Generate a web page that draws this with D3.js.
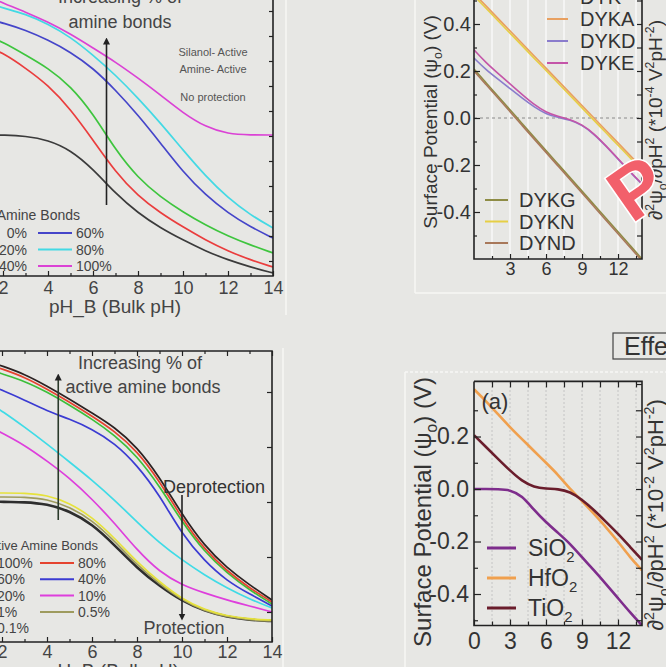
<!DOCTYPE html>
<html>
<head>
<meta charset="utf-8">
<script src="https://d3js.org/d3.v7.min.js"></script>
<style>
body { margin: 0; background: #e7e7e4; }
svg { display: block; font-family: "Liberation Sans", Arial, sans-serif; }
</style>
</head>
<body>
<svg id="drawing_region"></svg>
<script>
// ---- top left: % amine bonds ----
const phA = [1.5, 2, 3, 4, 5, 6, 7, 8, 9, 10, 11, 12, 13, 14];
const bondsA = ["0%", "20%", "40%", "60%", "80%", "100%"];
const colorsA = ["#3b3b3b", "#ea3d3d", "#3ec53e", "#4545c9", "#43d9e4", "#db42d5"];
const amine0 = [0.282, 0.282, 0.28, 0.272, 0.252, 0.214, 0.165, 0.126, 0.096, 0.072, 0.05, 0.032, 0.018, 0.006];
const amine20 = [0.454, 0.446, 0.416, 0.382, 0.334, 0.272, 0.208, 0.16, 0.126, 0.098, 0.072, 0.05, 0.032, 0.018];
const amine40 = [0.476, 0.468, 0.442, 0.416, 0.38, 0.325, 0.252, 0.196, 0.158, 0.128, 0.102, 0.08, 0.062, 0.046];
const amine60 = [0.512, 0.506, 0.492, 0.472, 0.448, 0.416, 0.372, 0.322, 0.266, 0.208, 0.162, 0.126, 0.098, 0.076];
const amine80 = [0.544, 0.536, 0.524, 0.504, 0.478, 0.442, 0.402, 0.356, 0.306, 0.252, 0.2, 0.156, 0.122, 0.096];
const amine100 = [0.556, 0.546, 0.528, 0.508, 0.484, 0.456, 0.428, 0.396, 0.362, 0.326, 0.298, 0.284, 0.282, 0.282];

// ---- bottom left: % active amine bonds ----
const phC = [1.5, 2, 3, 4, 5, 6, 7, 8, 9, 10, 11, 12, 13, 14];
const bondsC = ["100%", "80%", "60%", "40%", "20%", "10%", "1%", "0.5%", "0.1%"];
const colorsC = ["#2b2222", "#e5432f", "#3dbf3a", "#3b3bd2", "#3fdbe6", "#de3fdc", "#e6e23c", "#9e9b5e", "#2e2e2e"];
const active100 = [0.56, 0.552, 0.536, 0.512, 0.486, 0.458, 0.43, 0.39, 0.33, 0.255, 0.192, 0.148, 0.114, 0.084];
const active80 = [0.554, 0.546, 0.53, 0.506, 0.48, 0.452, 0.422, 0.382, 0.322, 0.247, 0.185, 0.142, 0.108, 0.08];
const active60 = [0.544, 0.536, 0.522, 0.5, 0.474, 0.446, 0.414, 0.372, 0.312, 0.24, 0.18, 0.138, 0.104, 0.076];
const active40 = [0.512, 0.504, 0.484, 0.462, 0.446, 0.426, 0.398, 0.354, 0.294, 0.215, 0.162, 0.122, 0.096, 0.072];
const active20 = [0.476, 0.462, 0.43, 0.396, 0.36, 0.324, 0.284, 0.24, 0.198, 0.164, 0.134, 0.108, 0.086, 0.068];
const active10 = [0.43, 0.418, 0.394, 0.362, 0.328, 0.286, 0.238, 0.184, 0.14, 0.114, 0.098, 0.084, 0.072, 0.06];
const active1 = [0.298, 0.298, 0.298, 0.294, 0.278, 0.25, 0.208, 0.16, 0.12, 0.086, 0.064, 0.052, 0.046, 0.044];
const active05 = [0.29, 0.29, 0.29, 0.286, 0.27, 0.244, 0.202, 0.154, 0.116, 0.084, 0.062, 0.05, 0.044, 0.042];
const active01 = [0.282, 0.28, 0.28, 0.276, 0.262, 0.236, 0.194, 0.148, 0.112, 0.082, 0.062, 0.05, 0.044, 0.042];

// ---- top right: DYK peptides ----
const phB = [0, 1, 2, 3, 4, 5, 6, 7, 8, 9, 10, 11, 12, 13, 14];
const namesB = ["DYKN", "DYKA", "DYKG", "DYND", "DYKD", "DYKE"];
const colorsB = ["#e6cf45", "#e8a060", "#8e8c45", "#a8785a", "#8a7ccc", "#c455a8"];
const dykn = [0.52, 0.467, 0.414, 0.361, 0.308, 0.255, 0.202, 0.149, 0.096, 0.043, -0.01, -0.063, -0.116, -0.169, -0.222];
const dyka = [0.53, 0.477, 0.424, 0.371, 0.318, 0.265, 0.212, 0.159, 0.106, 0.053, 0.0, -0.053, -0.106, -0.159, -0.212];
const dykg = [0.208, 0.15, 0.093, 0.035, -0.023, -0.081, -0.138, -0.196, -0.254, -0.311, -0.369, -0.427, -0.484, -0.542, -0.6];
const dynd = [0.2, 0.142, 0.085, 0.027, -0.031, -0.089, -0.146, -0.204, -0.262, -0.319, -0.377, -0.435, -0.492, -0.55, -0.608];
const dykd = [0.255, 0.205, 0.165, 0.125, 0.085, 0.047, 0.017, 0.002, -0.008, -0.03, -0.068, -0.12, -0.175, -0.23, -0.282];
const dyke = [0.29, 0.235, 0.19, 0.145, 0.1, 0.057, 0.024, 0.006, -0.005, -0.028, -0.066, -0.118, -0.173, -0.228, -0.28];
const legendTopB = ["DYK", "DYKA", "DYKD", "DYKE"];
const legendBottomB = ["DYKG", "DYKN", "DYND"];

// ---- bottom right: oxides ----
const phD = [0, 1, 2, 3, 4, 5, 6, 7, 8, 9, 10, 11, 12, 13, 14];
const oxides = ["SiO", "HfO", "TiO"];
const colorsD = ["#7e2d8c", "#f0a04e", "#6a1d2c"];
const sio2 = [0.0, 0.0, -0.001, -0.003, -0.025, -0.08, -0.127, -0.167, -0.208, -0.26, -0.31, -0.362, -0.416, -0.47, -0.52];
const hfo2 = [0.38, 0.335, 0.285, 0.235, 0.19, 0.145, 0.1, 0.055, 0.0, -0.045, -0.095, -0.145, -0.2, -0.26, -0.31];
const tio2 = [0.205, 0.16, 0.115, 0.07, 0.03, 0.007, 0.001, 0.0, -0.01, -0.04, -0.08, -0.125, -0.17, -0.22, -0.27];

const svg = d3.select('#drawing_region')
    .attr('width', 666)
    .attr('height', 667);

svg.append('rect').attr('width', 666).attr('height', 667).attr('fill', '#e7e7e4');

const defs = svg.append('defs');
defs.append('marker')
    .attr('id', 'arrow')
    .attr('viewBox', '0 0 10 10')
    .attr('refX', 5).attr('refY', 5)
    .attr('markerWidth', 7).attr('markerHeight', 9)
    .attr('orient', 'auto-start-reverse')
    .attr('markerUnits', 'userSpaceOnUse')
    .append('path').attr('d', 'M0,0 L10,5 L0,10 Z').attr('fill', '#222');

// light panel borders of the poster
function frameLine(x1, y1, x2, y2, dash) {
    svg.append('line')
        .attr('x1', x1).attr('y1', y1).attr('x2', x2).attr('y2', y2)
        .attr('stroke', '#f7f7f5').attr('stroke-width', 1.5)
        .attr('stroke-dasharray', dash || null);
}
frameLine(286, 0, 286, 315);
frameLine(283, 348, 283, 667);
frameLine(415, 0, 415, 293);
frameLine(415, 293, 666, 293);
frameLine(405, 372, 666, 372, '3,2');
frameLine(405, 372, 405, 667);

class LinePanel {

    constructor( config, xs, series, colors ) {
        this.config = config;
        this.xs = xs;
        this.series = series;
        this.colors = colors;
        this.init();
    }

    init() {
        let self = this;
        self.xscale = d3.scaleLinear().domain(self.config.xdomain).range(self.config.xrange);
        self.yscale = d3.scaleLinear().domain(self.config.ydomain).range(self.config.yrange);

        const c = self.config.clip;
        defs.append('clipPath').attr('id', self.config.id)
            .append('rect').attr('x', c[0]).attr('y', c[1]).attr('width', c[2]).attr('height', c[3]);

        self.back = svg.append('g');
        self.chart = svg.append('g').attr('clip-path', `url(#${self.config.id})`);
        self.front = svg.append('g');
    }

    render() {
        let self = this;
        const line = d3.line()
            .x((d, i) => self.xscale(self.xs[i]))
            .y(d => self.yscale(d))
            .curve(d3.curveBasis);

        self.chart.selectAll('path.series')
            .data(self.series)
            .join('path')
            .attr('class', 'series')
            .attr('d', line)
            .attr('fill', 'none')
            .attr('stroke', (d, i) => self.colors[i])
            .attr('stroke-width', (d, i) => (self.config.widths ? self.config.widths[i] : self.config.lineWidth));
    }

    axis( axis, tx, ty, font, color, padding ) {
        let self = this;
        const g = self.front.append('g')
            .attr('transform', `translate(${tx},${ty})`)
            .call(axis.tickSizeOuter(0).tickPadding(padding || 4));
        g.select('.domain').remove();
        g.selectAll('line').attr('stroke', '#222').attr('stroke-width', 1.2);
        g.selectAll('text')
            .attr('font-size', font)
            .attr('font-family', '"Liberation Sans", Arial, sans-serif')
            .attr('fill', color);
        return g;
    }

    border( pts ) {
        this.front.append('path')
            .attr('d', d3.line()(pts))
            .attr('fill', 'none')
            .attr('stroke', '#222')
            .attr('stroke-width', 1.6);
    }
}

function richText( sel, segs, size ) {
    let shift = 0;
    segs.forEach(([t, s]) => {
        const target = s === 1 ? -0.4 * size : (s === -1 ? 0.25 * size : 0);
        sel.append('tspan')
            .attr('dy', target - shift)
            .attr('font-size', s ? size * 0.65 : size)
            .text(t);
        shift = target;
    });
}

function addText( x, y, txt, size, color, anchor ) {
    return svg.append('text')
        .attr('x', x).attr('y', y)
        .attr('font-size', size)
        .attr('fill', color)
        .attr('text-anchor', anchor || 'start')
        .text(txt);
}

// ================= panel A =================
const panelA = new LinePanel({
    id: 'clipA', xdomain: [2, 14], xrange: [3, 273], ydomain: [0, 0.55], yrange: [276, 1],
    clip: [-20, -20, 293, 296], lineWidth: 1.7
}, phA, [amine0, amine20, amine40, amine60, amine80, amine100], colorsA);
panelA.render();
{
    const x = panelA.xscale, y = panelA.yscale;
    panelA.border([[-10, 276], [273, 276], [273, -10]]);
    panelA.axis(d3.axisBottom(x).tickValues([2, 4, 6, 8, 10, 12, 14]).tickSize(-5).tickFormat(d3.format('d')), 0, 276, 18, '#444', 5);
    panelA.axis(d3.axisBottom(x).tickValues([3, 5, 7, 9, 11, 13]).tickSize(-3).tickFormat(''), 0, 276, 10, '#444');
    panelA.axis(d3.axisRight(y).tickValues(d3.range(0.03, 0.56, 0.05)).tickSize(-4).tickFormat(''), 273, 0, 10, '#444');

    addText(115, 313, 'pH_B (Bulk pH)', 19, '#444', 'middle');
    addText(120, 3, 'Increasing % of', 18, '#444', 'middle');
    addText(120, 28, 'amine bonds', 18, '#444', 'middle');
    svg.append('line')
        .attr('x1', x(6.6)).attr('y1', y(0.142))
        .attr('x2', x(6.6)).attr('y2', y(0.47))
        .attr('stroke', '#222').attr('stroke-width', 1.6)
        .attr('marker-end', 'url(#arrow)');
    addText(213, 56, 'Silanol- Active', 11, '#555', 'middle');
    addText(213, 73, 'Amine- Active', 11, '#555', 'middle');
    addText(213, 101, 'No protection', 11, '#555', 'middle');

    // legend
    addText(80, 220, 'Amine Bonds', 14, '#444', 'end');
    for (let i = 0; i < 3; i++) {
        const yy = 233 + i * 16.5;
        addText(27, yy + 5, bondsA[i], 14, '#444', 'end');
        svg.append('line').attr('x1', 38).attr('x2', 72).attr('y1', yy).attr('y2', yy)
            .attr('stroke', colorsA[i + 3]).attr('stroke-width', 2);
        addText(76, yy + 5, bondsA[i + 3], 14, '#444');
    }
}

// ================= panel C =================
const panelC = new LinePanel({
    id: 'clipC', xdomain: [2, 14], xrange: [2, 272], ydomain: [0, 0.582], yrange: [642, 351],
    clip: [-20, 351, 292, 291],
    widths: [1.7, 1.7, 1.7, 1.7, 1.7, 1.7, 1.7, 1.7, 2.6].reverse()
}, phC, [active01, active05, active1, active10, active20, active40, active60, active80, active100],
   colorsC.slice().reverse());
panelC.render();
{
    const x = panelC.xscale, y = panelC.yscale;
    panelC.border([[-10, 351], [272, 351], [272, 642], [-10, 642]]);
    panelC.axis(d3.axisBottom(x).tickValues([2, 4, 6, 8, 10, 12, 14]).tickSize(-5).tickFormat(d3.format('d')), 0, 642, 18, '#444', 3);
    panelC.axis(d3.axisBottom(x).tickValues([3, 5, 7, 9, 11, 13]).tickSize(-3).tickFormat(''), 0, 642, 10, '#444');
    panelC.axis(d3.axisTop(x).tickValues([2, 4, 6, 8, 10, 12, 14]).tickSize(-5).tickFormat(''), 0, 351, 10, '#444');
    panelC.axis(d3.axisTop(x).tickValues([3, 5, 7, 9, 11, 13]).tickSize(-3).tickFormat(''), 0, 351, 10, '#444');
    panelC.axis(d3.axisRight(y).tickValues([0.06, 0.17, 0.28, 0.39, 0.5]).tickSize(-5).tickFormat(''), 272, 0, 10, '#444');

    addText(113, 677, 'pH_B (Bulk pH)', 19, '#444', 'middle');
    addText(140, 369, 'Increasing % of', 18, '#444', 'middle');
    addText(143, 393, 'active amine bonds', 18, '#444', 'middle');
    addText(214, 493, 'Deprotection', 18, '#333', 'middle');
    addText(184, 634, 'Protection', 18, '#444', 'middle');
    svg.append('line')
        .attr('x1', x(4.5)).attr('y1', y(0.244))
        .attr('x2', x(4.5)).attr('y2', y(0.53))
        .attr('stroke', '#2a3a2a').attr('stroke-width', 1.6)
        .attr('marker-end', 'url(#arrow)');
    svg.append('line')
        .attr('x1', x(10)).attr('y1', y(0.294))
        .attr('x2', x(10)).attr('y2', y(0.05))
        .attr('stroke', '#222').attr('stroke-width', 1.6)
        .attr('marker-end', 'url(#arrow)');

    // legend
    addText(98, 550, 'Active Amine Bonds', 13, '#444', 'end');
    for (let i = 0; i < 5; i++) {
        const yy = 563 + i * 16.3;
        addText(-3, yy + 5, bondsC[2 * i], 14, '#444');
        if (2 * i + 1 < bondsC.length) {
            svg.append('line').attr('x1', 40).attr('x2', 74).attr('y1', yy).attr('y2', yy)
                .attr('stroke', colorsC[2 * i + 1]).attr('stroke-width', 2);
            addText(78, yy + 5, bondsC[2 * i + 1], 14, '#444');
        }
    }
}

// ================= panel B =================
const panelB = new LinePanel({
    id: 'clipB', xdomain: [0, 14], xrange: [474, 642], ydomain: [-0.6, 0.5], yrange: [259, 0.5],
    clip: [474, -20, 168, 279], lineWidth: 1.6
}, phB, [dykn, dyka, dykg, dynd, dykd, dyke], colorsB);
{
    const x = panelB.xscale, y = panelB.yscale;
    panelB.back.selectAll('line.grid')
        .data(d3.range(1.5, 14, 1.5))
        .join('line')
        .attr('x1', d => x(d)).attr('x2', d => x(d))
        .attr('y1', -5).attr('y2', 259)
        .attr('stroke', '#fbfbfb').attr('stroke-width', 1.3);
    panelB.back.append('line')
        .attr('x1', 474).attr('x2', 642).attr('y1', y(0)).attr('y2', y(0))
        .attr('stroke', '#8a8a8a').attr('stroke-dasharray', '3,3');
}
panelB.render();
{
    const x = panelB.xscale, y = panelB.yscale;
    panelB.border([[474, -10], [474, 259], [642, 259], [642, -10]]);
    panelB.axis(d3.axisLeft(y).tickValues([-0.4, -0.2, 0, 0.2, 0.4]).tickSize(-6).tickFormat(d => d.toFixed(1)), 474, 0, 20, '#333', 3);
    panelB.axis(d3.axisLeft(y).tickValues([-0.5, -0.3, -0.1, 0.1, 0.3, 0.5]).tickSize(-3).tickFormat(''), 474, 0, 10, '#333');
    panelB.axis(d3.axisRight(y).tickValues([-0.5, -0.4, -0.3, -0.2, -0.1, 0, 0.1, 0.2, 0.3, 0.4, 0.5]).tickSize(-5).tickFormat(''), 642, 0, 10, '#333');
    panelB.axis(d3.axisBottom(x).tickValues([3, 6, 9, 12]).tickSize(-5).tickFormat(d3.format('d')), 0, 259, 18, '#333', 3);
    panelB.axis(d3.axisBottom(x).tickValues([1.5, 4.5, 7.5, 10.5, 13.5]).tickSize(-3).tickFormat(''), 0, 259, 10, '#333');

    const yl = svg.append('text').attr('transform', 'translate(437,122) rotate(-90)')
        .attr('text-anchor', 'middle').attr('fill', '#333').attr('font-size', 19);
    richText(yl, [['Surface Potential (ψ', 0], ['o', -1], [') (V)', 0]], 19);
    const yr = svg.append('text').attr('transform', 'translate(662,120) rotate(-90)')
        .attr('text-anchor', 'middle').attr('fill', '#333').attr('font-size', 19);
    richText(yr, [['∂', 0], ['2', 1], ['ψ', 0], ['o', -1], ['/∂pH', 0], ['2', 1], [' (*10', 0], ['-4', 1], [' V', 0], ['2', 1], ['pH', 0], ['-2', 1], [')', 0]], 19);

    // legends
    const topColors = ['#9db0d8', colorsB[1], colorsB[4], colorsB[5]];
    legendTopB.forEach((n, i) => {
        const yy = -3 + i * 22;
        svg.append('line').attr('x1', 547).attr('x2', 568).attr('y1', yy).attr('y2', yy)
            .attr('stroke', topColors[i]).attr('stroke-width', 2);
        addText(580, yy + 7, n, 20, '#333');
    });
    const botColors = [colorsB[2], colorsB[0], colorsB[3]];
    legendBottomB.forEach((n, i) => {
        const yy = 200 + i * 21.5;
        svg.append('line').attr('x1', 485).attr('x2', 508).attr('y1', yy).attr('y2', yy)
            .attr('stroke', botColors[i]).attr('stroke-width', 2);
        addText(519, yy + 7, n, 20, '#333');
    });

    // logo over the corner
    svg.append('text')
        .attr('transform', 'translate(637,188) rotate(-35)')
        .attr('text-anchor', 'middle').attr('dominant-baseline', 'central')
        .attr('font-size', 76).attr('font-weight', 'bold')
        .attr('fill', '#f2606b').attr('stroke', '#ffffff').attr('stroke-width', 3)
        .attr('paint-order', 'stroke')
        .text('P');
}

// ================= panel D =================
const panelD = new LinePanel({
    id: 'clipD', xdomain: [0, 14], xrange: [474, 642], ydomain: [-0.52, 0.41], yrange: [625.5, 381.4],
    clip: [474, 381.4, 168, 244.1], lineWidth: 2.6
}, phD, [sio2, hfo2, tio2], colorsD);
{
    const x = panelD.xscale;
    panelD.back.selectAll('line.grid')
        .data(d3.range(1.5, 14, 1.5))
        .join('line')
        .attr('x1', d => x(d)).attr('x2', d => x(d))
        .attr('y1', 382).attr('y2', 625)
        .attr('stroke', '#c4c4c4').attr('stroke-dasharray', '2,2');
}
panelD.render();
{
    const x = panelD.xscale, y = panelD.yscale;
    panelD.border([[474, 381.4], [642, 381.4], [642, 625.5], [474, 625.5], [474, 381.4]]);
    panelD.axis(d3.axisLeft(y).tickValues([-0.4, -0.2, 0, 0.2]).tickSize(-7).tickFormat(d => d.toFixed(1)), 474, 0, 23, '#333', 5);
    panelD.axis(d3.axisLeft(y).tickValues([-0.5, -0.3, -0.1, 0.1, 0.3]).tickSize(-4).tickFormat(''), 474, 0, 10, '#333');
    panelD.axis(d3.axisRight(y).tickValues([-0.5, -0.4, -0.3, -0.2, -0.1, 0, 0.1, 0.2, 0.3, 0.4]).tickSize(-6).tickFormat(''), 642, 0, 10, '#333');
    panelD.axis(d3.axisBottom(x).tickValues([0, 3, 6, 9, 12]).tickSize(-6).tickFormat(d3.format('d')), 0, 625.5, 23, '#333', 7);
    panelD.axis(d3.axisBottom(x).tickValues([1.5, 4.5, 7.5, 10.5, 13.5]).tickSize(-4).tickFormat(''), 0, 625.5, 10, '#333');
    panelD.axis(d3.axisTop(x).tickValues([1.5, 3, 4.5, 6, 7.5, 9, 10.5, 12, 13.5]).tickSize(-6).tickFormat(''), 0, 381.4, 10, '#333');

    addText(495, 409, '(a)', 22, '#333', 'middle');

    const yl = svg.append('text').attr('transform', 'translate(431,512) rotate(-90)')
        .attr('text-anchor', 'middle').attr('fill', '#333').attr('font-size', 24);
    richText(yl, [['Surface Potential (ψ', 0], ['o', -1], [') (V)', 0]], 24);
    const yr = svg.append('text').attr('transform', 'translate(663,515) rotate(-90)')
        .attr('text-anchor', 'middle').attr('fill', '#333').attr('font-size', 22);
    richText(yr, [['∂', 0], ['2', 1], ['ψ', 0], ['o', -1], ['/∂pH', 0], ['2', 1], [' (*10', 0], ['-2', 1], [' V', 0], ['2', 1], ['pH', 0], ['-2', 1], [')', 0]], 22);

    oxides.forEach((n, i) => {
        const yy = 548 + i * 30;
        svg.append('line').attr('x1', 487).attr('x2', 516).attr('y1', yy).attr('y2', yy)
            .attr('stroke', colorsD[i]).attr('stroke-width', 3);
        const t = addText(528, yy + 8, '', 23, '#333');
        richText(t, [[n, 0], ['2', -1]], 23);
    });

    // "Effe..." heading box
    svg.append('rect').attr('x', 613).attr('y', 333).attr('width', 70).attr('height', 26)
        .attr('fill', 'none').attr('stroke', '#444').attr('stroke-width', 1.2);
    addText(624, 355, 'Effect', 25, '#333');
}
</script>
</body>
</html>
